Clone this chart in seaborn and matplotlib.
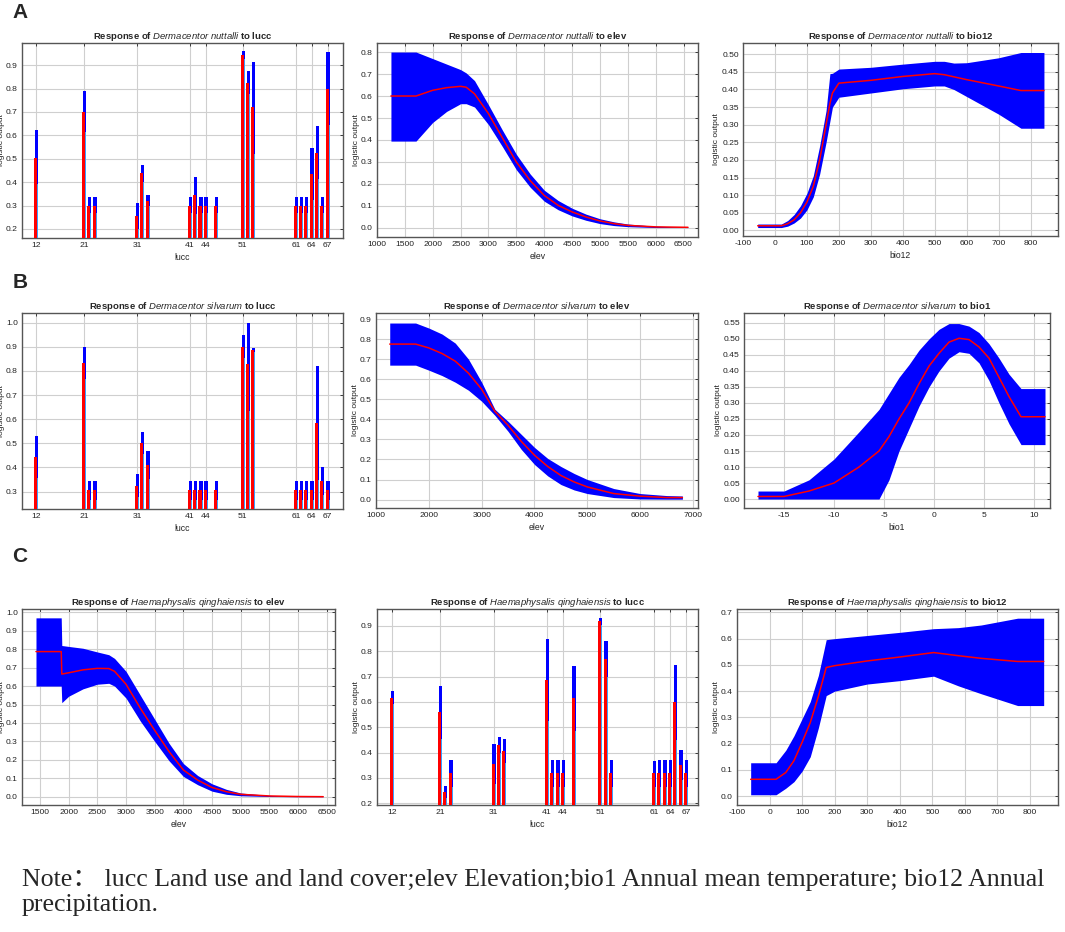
import numpy as np
import pandas as pd
import matplotlib
matplotlib.use("Agg")
import matplotlib.pyplot as plt
from matplotlib.ticker import FormatStrFormatter
import seaborn as sns

# ---------------- data ----------------
LUCC_CODES = [12, 21, 22, 23, 31, 32, 33, 41, 42, 43, 44, 46, 51, 52, 53, 61, 62, 63, 64, 65, 66, 67]
LUCC_TICKS = [12, 21, 31, 41, 44, 51, 61, 64, 67]

# A: Dermacentor nuttalli - lucc
A_lucc_mean = [0.505, 0.70, 0.30, 0.30, 0.255, 0.44, 0.32, 0.30, 0.345, 0.30, 0.30, 0.30,
               0.945, 0.825, 0.72, 0.30, 0.30, 0.30, 0.435, 0.525, 0.30, 0.80]
A_lucc_upper = [0.625, 0.79, 0.335, 0.335, 0.31, 0.475, 0.345, 0.335, 0.42, 0.335, 0.335, 0.335,
                0.96, 0.875, 0.915, 0.335, 0.335, 0.335, 0.545, 0.64, 0.335, 0.955]
A_lucc_lower = [0.39, 0.615, 0.27, 0.27, 0.20, 0.40, 0.30, 0.27, 0.265, 0.27, 0.27, 0.27,
                0.925, 0.775, 0.52, 0.27, 0.27, 0.27, 0.325, 0.415, 0.27, 0.645]

# A: Dermacentor nuttalli - elev
A_elev_x = [1250, 1700, 2000, 2250, 2500, 2600, 2750, 3000, 3250, 3500, 3750, 4000, 4250, 4500,
            4750, 5000, 5250, 5500, 6000, 6580]
A_elev_mean = [0.60, 0.60, 0.626, 0.638, 0.644, 0.64, 0.61, 0.52, 0.41, 0.30, 0.215, 0.148, 0.103, 0.073,
               0.05, 0.032, 0.02, 0.012, 0.005, 0.003]
A_elev_upper = [0.80, 0.80, 0.77, 0.745, 0.72, 0.705, 0.67, 0.56, 0.445, 0.335, 0.245, 0.172, 0.125, 0.09,
                0.063, 0.042, 0.028, 0.018, 0.008, 0.004]
A_elev_lower = [0.395, 0.395, 0.48, 0.53, 0.565, 0.565, 0.55, 0.47, 0.37, 0.265, 0.185, 0.122, 0.083, 0.055,
                0.035, 0.02, 0.011, 0.006, 0.002, 0.002]

# A: Dermacentor nuttalli - bio12
A_bio12_x = [-54, 20, 40, 60, 80, 100, 120, 140, 160, 172, 180, 200, 300, 400, 500, 530, 560, 600, 700, 770, 842]
A_bio12_mean = [0.013, 0.013, 0.019, 0.03, 0.05, 0.08, 0.125, 0.2, 0.3, 0.36, 0.39, 0.418, 0.426, 0.437,
                0.445, 0.442, 0.436, 0.428, 0.41, 0.397, 0.397]
A_bio12_upper = [0.018, 0.018, 0.028, 0.045, 0.07, 0.105, 0.155, 0.24, 0.34, 0.445, 0.446, 0.458, 0.463,
                 0.472, 0.48, 0.48, 0.475, 0.476, 0.49, 0.505, 0.505]
A_bio12_lower = [0.008, 0.008, 0.012, 0.021, 0.035, 0.058, 0.095, 0.16, 0.25, 0.31, 0.35, 0.378, 0.39,
                 0.402, 0.41, 0.41, 0.40, 0.38, 0.33, 0.29, 0.29]

# B: Dermacentor silvarum - lucc
B_lucc_mean = [0.442, 0.834, 0.305, 0.305, 0.322, 0.502, 0.41, 0.305, 0.305, 0.305, 0.305, 0.305,
               0.90, 0.83, 0.885, 0.305, 0.305, 0.305, 0.305, 0.585, 0.343, 0.305]
B_lucc_upper = [0.53, 0.90, 0.345, 0.345, 0.372, 0.548, 0.47, 0.345, 0.345, 0.345, 0.345, 0.345,
                0.95, 1.0, 0.895, 0.345, 0.345, 0.345, 0.345, 0.82, 0.403, 0.345]
B_lucc_lower = [0.355, 0.765, 0.265, 0.265, 0.278, 0.455, 0.352, 0.265, 0.265, 0.265, 0.265, 0.265,
                0.855, 0.635, 0.88, 0.265, 0.265, 0.265, 0.265, 0.35, 0.285, 0.265]

# B: Dermacentor silvarum - elev
B_elev_x = [1260, 1750, 2000, 2250, 2500, 2750, 3000, 3250, 3500, 3750, 4000, 4250, 4500, 4750, 5000,
            5500, 6000, 6500, 6800]
B_elev_mean = [0.775, 0.775, 0.756, 0.728, 0.69, 0.63, 0.55, 0.44, 0.37, 0.29, 0.221, 0.165, 0.12,
               0.088, 0.063, 0.03, 0.017, 0.01, 0.01]
B_elev_upper = [0.88, 0.88, 0.855, 0.825, 0.78, 0.70, 0.585, 0.45, 0.39, 0.325, 0.26, 0.205, 0.165,
                0.13, 0.10, 0.055, 0.03, 0.02, 0.018]
B_elev_lower = [0.67, 0.67, 0.645, 0.618, 0.585, 0.545, 0.49, 0.42, 0.34, 0.25, 0.175, 0.118, 0.075,
                0.048, 0.03, 0.01, 0.003, 0.002, 0.002]

# B: Dermacentor silvarum - bio1
B_bio1_x = [-17.6, -15, -12.5, -10, -7.5, -5.5, -4.5, -3.5, -2.5, -1.5, -0.5, 0.5, 1.5, 2.5, 3.5, 4.5,
            5.5, 6.5, 7.5, 8.7, 11.1]
B_bio1_mean = [0.008, 0.008, 0.025, 0.05, 0.1, 0.15, 0.195, 0.25, 0.3, 0.36, 0.415, 0.455, 0.49, 0.502,
               0.498, 0.475, 0.44, 0.38, 0.32, 0.257, 0.257]
B_bio1_upper = [0.025, 0.025, 0.06, 0.125, 0.21, 0.28, 0.33, 0.38, 0.42, 0.465, 0.5, 0.53, 0.548, 0.548,
                0.54, 0.52, 0.485, 0.44, 0.39, 0.345, 0.345]
B_bio1_lower = [0.0, 0.0, 0.0, 0.0, 0.0, 0.0, 0.06, 0.15, 0.22, 0.29, 0.35, 0.40, 0.44, 0.46, 0.455,
                0.425, 0.37, 0.30, 0.235, 0.17, 0.17]

# C: Haemaphysalis qinghaiensis - elev
C_elev_x = [1430, 1870, 1880, 2000, 2250, 2500, 2700, 2800, 3000, 3250, 3500, 3750, 4000, 4250, 4500,
            4750, 5000, 5500, 6000, 6440]
C_elev_mean = [0.787, 0.787, 0.665, 0.672, 0.688, 0.696, 0.695, 0.68, 0.61, 0.48, 0.36, 0.245, 0.145,
               0.09, 0.05, 0.027, 0.013, 0.004, 0.001, 0.0]
C_elev_upper = [0.97, 0.97, 0.82, 0.815, 0.805, 0.785, 0.77, 0.75, 0.68, 0.55, 0.42, 0.29, 0.18, 0.115,
                0.07, 0.04, 0.02, 0.007, 0.002, 0.001]
C_elev_lower = [0.60, 0.60, 0.51, 0.545, 0.585, 0.61, 0.615, 0.60, 0.535, 0.41, 0.30, 0.195, 0.11, 0.065,
                0.03, 0.013, 0.005, 0.001, 0.0, 0.0]

# C: Haemaphysalis qinghaiensis - lucc
C_lucc_mean = [0.614, 0.561, 0.245, 0.32, 0.355, 0.428, 0.405, 0.687, 0.32, 0.32, 0.32, 0.614,
               0.918, 0.77, 0.32, 0.318, 0.32, 0.32, 0.32, 0.60, 0.35, 0.32]
C_lucc_upper = [0.644, 0.664, 0.268, 0.37, 0.435, 0.46, 0.452, 0.85, 0.37, 0.37, 0.37, 0.742,
                0.932, 0.842, 0.37, 0.367, 0.37, 0.37, 0.37, 0.747, 0.41, 0.37]
C_lucc_lower = [0.59, 0.455, 0.22, 0.265, 0.275, 0.40, 0.36, 0.525, 0.265, 0.265, 0.265, 0.487,
                0.905, 0.70, 0.265, 0.265, 0.265, 0.265, 0.265, 0.45, 0.29, 0.265]

# C: Haemaphysalis qinghaiensis - bio12
C_bio12_x = [-58, 20, 50, 75, 100, 125, 150, 174, 200, 300, 400, 504, 580, 650, 762, 842]
C_bio12_mean = [0.064, 0.064, 0.09, 0.135, 0.205, 0.28, 0.38, 0.49, 0.497, 0.515, 0.53, 0.547, 0.535,
                0.525, 0.513, 0.513]
C_bio12_upper = [0.127, 0.127, 0.175, 0.23, 0.295, 0.36, 0.46, 0.596, 0.60, 0.612, 0.624, 0.638, 0.642,
                 0.652, 0.678, 0.678]
C_bio12_lower = [0.005, 0.005, 0.03, 0.055, 0.095, 0.15, 0.26, 0.383, 0.40, 0.427, 0.44, 0.457, 0.42,
                 0.39, 0.345, 0.345]

NOTE_LINE1 = "Note\uff1a lucc Land use and land cover;elev Elevation;bio1 Annual mean temperature; bio12 Annual"
NOTE_LINE2 = "precipitation."

# ---------------- style ----------------
sns.set_theme(style="white")
plt.rcParams["font.family"] = ["Liberation Sans", "DejaVu Sans"]
plt.rcParams["mathtext.fontset"] = "custom"
plt.rcParams["mathtext.rm"] = "Liberation Sans"
plt.rcParams["mathtext.it"] = "Liberation Sans:italic"
plt.rcParams["mathtext.bf"] = "Liberation Sans:bold"
plt.rcParams["axes.unicode_minus"] = False

W, H = 1065, 932
fig = plt.figure(figsize=(W / 100, H / 100), dpi=100, facecolor="white")


def make_ax(l, r, t, b):
    ax = fig.add_axes([l / W, 1 - b / H, (r - l) / W, (b - t) / H])
    ax._box_px = (l, r, t, b)
    return ax


def style(ax, xlim, ylim, xticks, yticks, yfmt, xlabel, title):
    ax.set_xlim(*xlim)
    ax.set_ylim(*ylim)
    ax.set_xticks(xticks)
    ax.set_yticks(yticks)
    ax.yaxis.set_major_formatter(FormatStrFormatter(yfmt))
    ax.set_axisbelow(True)
    ax.grid(True, color="#cfcfcf", lw=0.8)
    ax.tick_params(direction="in", length=2.5, width=0.6, top=True, right=True,
                   labelsize=6.1, pad=3, colors="#222222")
    for s in ax.spines.values():
        s.set_color("#555555")
        s.set_linewidth(1.0)
    ax.set_xlabel(xlabel, fontsize=6.2, labelpad=3, color="#222222")
    ax.set_ylabel("logistic output", fontsize=6.0, color="#222222")
    l, r, t, b = ax._box_px
    off = 22.5 if yfmt == "%.2f" else 17.0
    ax.yaxis.set_label_coords(-off / (r - l), 0.5)
    ax.set_title(title, fontsize=6.8, fontweight="bold", pad=3)


def curve(ax, x, mean, upper, lower):
    ax.fill_between(x, lower, upper, color="#0000ff", lw=0, zorder=2)
    df = pd.DataFrame({"x": x, "y": mean})
    sns.lineplot(data=df, x="x", y="y", ax=ax, color="#ff0000", lw=1.1, zorder=3)


def bars(ax, mean, upper, lower):
    x = np.array(LUCC_CODES, dtype=float)
    ax.bar(x - 0.25, upper, width=0.63, align="edge", color="#0000ff", lw=0, zorder=2)
    ax.bar(x - 0.38, mean, width=0.57, align="edge", color="#ff0000", lw=0, zorder=3)
    ax.bar(x + 0.19, lower, width=0.19, align="edge", color="#3aa0ff", lw=0, zorder=4)


def title(genus, species, var):
    return r"Response of $\it{" + genus + r"\ " + species + r"}$ to " + var


# Row A
ax = make_ax(22, 343, 43, 238)
bars(ax, A_lucc_mean, A_lucc_upper, A_lucc_lower)
style(ax, (9.3, 69.9), (0.161, 0.995), LUCC_TICKS, np.arange(0.2, 0.91, 0.1), "%.1f", "lucc",
      title("Dermacentor", "nuttalli", "lucc"))

ax = make_ax(377, 698, 43, 237)
curve(ax, A_elev_x, A_elev_mean, A_elev_upper, A_elev_lower)
style(ax, (1020, 6760), (-0.041, 0.841), np.arange(1000, 6501, 500), np.arange(0, 0.81, 0.1), "%.1f",
      "elev", title("Dermacentor", "nuttalli", "elev"))

ax = make_ax(743, 1058, 43, 236)
curve(ax, A_bio12_x, A_bio12_mean, A_bio12_upper, A_bio12_lower)
style(ax, (-100, 886), (-0.016, 0.532), np.arange(-100, 801, 100), np.arange(0, 0.501, 0.05), "%.2f",
      "bio12", title("Dermacentor", "nuttalli", "bio12"))

# Row B
ax = make_ax(22, 343, 313, 509)
bars(ax, B_lucc_mean, B_lucc_upper, B_lucc_lower)
style(ax, (9.3, 69.9), (0.228, 1.04), LUCC_TICKS, np.arange(0.3, 1.01, 0.1), "%.1f", "lucc",
      title("Dermacentor", "silvarum", "lucc"))

ax = make_ax(376, 698, 313, 508)
curve(ax, B_elev_x, B_elev_mean, B_elev_upper, B_elev_lower)
style(ax, (1000, 7095), (-0.042, 0.93), np.arange(1000, 7001, 1000), np.arange(0, 0.91, 0.1), "%.1f",
      "elev", title("Dermacentor", "silvarum", "elev"))

ax = make_ax(744, 1050, 313, 508)
curve(ax, B_bio1_x, B_bio1_mean, B_bio1_upper, B_bio1_lower)
style(ax, (-19, 11.6), (-0.028, 0.581), np.arange(-15, 11, 5), np.arange(0, 0.551, 0.05), "%.2f",
      "bio1", title("Dermacentor", "silvarum", "bio1"))

# Row C
ax = make_ax(22, 335, 609, 805)
curve(ax, C_elev_x, C_elev_mean, C_elev_upper, C_elev_lower)
style(ax, (1186, 6645), (-0.045, 1.018), np.arange(1500, 6501, 500), np.arange(0, 1.01, 0.1), "%.1f",
      "elev", title("Haemaphysalis", "qinghaiensis", "elev"))

ax = make_ax(377, 698, 609, 805)
bars(ax, C_lucc_mean, C_lucc_upper, C_lucc_lower)
style(ax, (9.2, 69.25), (0.193, 0.967), LUCC_TICKS, np.arange(0.2, 0.91, 0.1), "%.1f", "lucc",
      title("Haemaphysalis", "qinghaiensis", "lucc"))

ax = make_ax(737, 1058, 609, 805)
curve(ax, C_bio12_x, C_bio12_mean, C_bio12_upper, C_bio12_lower)
style(ax, (-100, 886), (-0.034, 0.713), np.arange(-100, 801, 100), np.arange(0, 0.71, 0.1), "%.1f",
      "bio12", title("Haemaphysalis", "qinghaiensis", "bio12"))

# Panel letters
for letter, yc in (("A", 13), ("B", 282), ("C", 557)):
    fig.text(20 / W, 1 - yc / H, letter, fontsize=15, fontweight="bold", ha="center", va="center",
             family=["Liberation Sans", "DejaVu Sans"])

# Note
fig.text(22 / W, 1 - 880 / H, NOTE_LINE1, fontsize=18.6, ha="left", va="center",
         family=["Liberation Serif", "Noto Sans CJK SC", "DejaVu Serif"])
fig.text(22 / W, 1 - 905 / H, NOTE_LINE2, fontsize=18.6, ha="left", va="center",
         family=["Liberation Serif", "Noto Sans CJK SC", "DejaVu Serif"])

fig.savefig("out.png", dpi=100, facecolor="white")
